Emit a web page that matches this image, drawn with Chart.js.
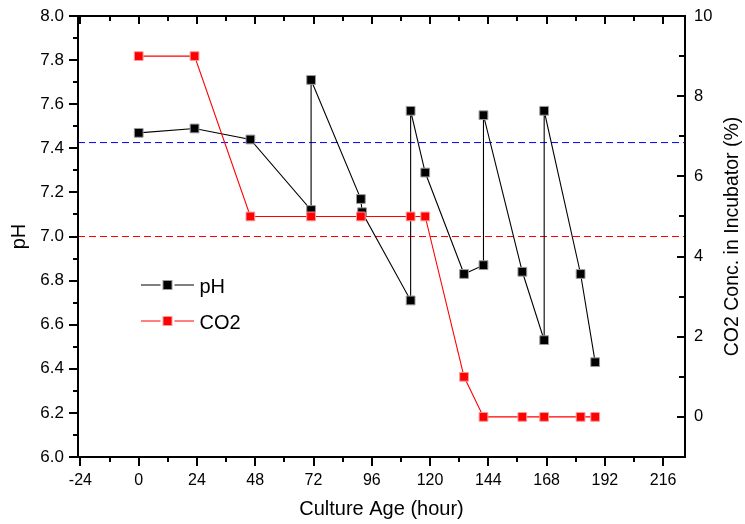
<!DOCTYPE html>
<html>
<head>
<meta charset="utf-8">
<script src="https://cdn.jsdelivr.net/npm/chart.js@4.4.1/dist/chart.umd.min.js"></script>
<style>
  html, body { margin: 0; padding: 0; background: #fff; }
  #wrap { width: 745px; height: 524px; position: relative; }
</style>
</head>
<body>
<div id="wrap"><canvas id="c" width="745" height="524"></canvas></div>
<script>
// ---- Data ----
const pHHours = [0, 23, 46, 71, 71, 91.5, 92, 112, 112, 118, 134, 142, 142, 158, 167, 167, 182, 188];
const pHValues = [7.47, 7.49, 7.44, 7.12, 7.71, 7.17, 7.11, 6.71, 7.57, 7.29, 6.83, 6.87, 7.55, 6.84, 6.53, 7.57, 6.83, 6.43];

const co2Hours = [0, 23, 46, 71, 91.5, 112, 118, 134, 142, 158, 167, 182, 188];
const co2Values = [9, 9, 5, 5, 5, 5, 5, 1, 0, 0, 0, 0, 0];

const refBlueLevel = 7.426; // pH
const refRedLevel = 7.0;    // pH

const xTicks = [-24, 0, 24, 48, 72, 96, 120, 144, 168, 192, 216];
const yTicks = [6.0, 6.2, 6.4, 6.6, 6.8, 7.0, 7.2, 7.4, 7.6, 7.8, 8.0];
const y2Ticks = [0, 2, 4, 6, 8, 10];

const xRange = [-25, 225];
const yRange = [6.0, 8.0];
const y2Range = [-1, 10];

const FONT = "'Liberation Sans', Arial, Helvetica, sans-serif";

const toPts = (xs, ys) => xs.map((x, i) => ({ x: x, y: ys[i] }));

// minor tick helpers (midpoints between major ticks)
const mids = arr => arr.slice(0, -1).map((v, i) => (v + arr[i + 1]) / 2);

const framePlugin = {
  id: 'frame',
  afterDraw(chart) {
    const { ctx, chartArea: a, scales } = chart;
    ctx.save();
    ctx.strokeStyle = '#000';
    ctx.lineWidth = 2;
    ctx.beginPath();
    const xMinorAll = mids(xTicks).concat([xTicks[xTicks.length - 1] + 12]).filter(v => v <= xRange[1]);
    xTicks.forEach(v => {
      const p = Math.round(scales.x.getPixelForValue(v));
      ctx.moveTo(p, a.bottom); ctx.lineTo(p, a.bottom + 9);
      ctx.moveTo(p, a.top); ctx.lineTo(p, a.top + 8);
    });
    xMinorAll.forEach(v => {
      const p = Math.round(scales.x.getPixelForValue(v));
      ctx.moveTo(p, a.bottom); ctx.lineTo(p, a.bottom + 5);
      ctx.moveTo(p, a.top); ctx.lineTo(p, a.top + 5);
    });
    // left y: outward
    yTicks.forEach(v => {
      const p = Math.round(scales.y.getPixelForValue(v));
      ctx.moveTo(a.left, p); ctx.lineTo(a.left - 9, p);
    });
    mids(yTicks).forEach(v => {
      const p = Math.round(scales.y.getPixelForValue(v));
      ctx.moveTo(a.left, p); ctx.lineTo(a.left - 5, p);
    });
    // right y2: inward
    y2Ticks.forEach(v => {
      const p = Math.round(scales.y2.getPixelForValue(v));
      ctx.moveTo(a.right, p); ctx.lineTo(a.right - 8, p);
    });
    mids(y2Ticks).forEach(v => {
      const p = Math.round(scales.y2.getPixelForValue(v));
      ctx.moveTo(a.right, p); ctx.lineTo(a.right - 6, p);
    });
    ctx.stroke();
    // frame
    ctx.lineWidth = 2;
    ctx.strokeRect(a.left, a.top, a.right - a.left, a.bottom - a.top);

    // right axis title (reads bottom-to-top)
    ctx.fillStyle = '#000';
    ctx.font = '19.5px ' + FONT;
    ctx.textAlign = 'center';
    ctx.textBaseline = 'middle';
    ctx.translate(733, (a.top + a.bottom) / 2);
    ctx.rotate(-Math.PI / 2);
    ctx.fillText('CO2 Conc. in Incubator (%)', 0, 0);
    ctx.restore();

    // legend
    ctx.save();
    const items = [chart.data.datasets[0], chart.data.datasets[1]];
    const rows = [269, 305];
    items.forEach((ds, i) => {
      const cy = a.top + rows[i];
      const x0 = a.left + 63, x1 = a.left + 116, mx = a.left + 89.5;
      ctx.strokeStyle = ds.borderColor;
      ctx.lineWidth = 1;
      ctx.beginPath();
      ctx.moveTo(x0, cy); ctx.lineTo(mx - 7, cy);
      ctx.moveTo(mx + 7, cy); ctx.lineTo(x1, cy);
      ctx.stroke();
      ctx.fillStyle = ds.pointBackgroundColor;
      ctx.fillRect(mx - 4.5, cy - 4.5, 9, 9);
      ctx.strokeStyle = ds.pointBorderColor;
      ctx.strokeRect(mx - 4.5, cy - 4.5, 9, 9);
      ctx.fillStyle = '#000';
      ctx.font = '20px ' + FONT;
      ctx.textAlign = 'left';
      ctx.textBaseline = 'alphabetic';
      ctx.fillText(ds.label, a.left + 121.5, cy + 7.5);
    });
    ctx.restore();
  }
};

const noPad = s => { s.paddingTop = 0; s.paddingBottom = 0; s.paddingLeft = 0; s.paddingRight = 0; };

new Chart(document.getElementById('c'), {
  type: 'line',
  data: {
    datasets: [
      {
        label: 'pH',
        data: toPts(pHHours, pHValues),
        yAxisID: 'y',
        borderColor: '#000000',
        borderWidth: 1.1,
        pointStyle: 'rect',
        pointRadius: 6.2,
        pointBackgroundColor: '#000000',
        pointBorderColor: '#9a9a9a',
        pointBorderWidth: 1,
        tension: 0,
        fill: false,
        order: 2
      },
      {
        label: 'CO2',
        data: toPts(co2Hours, co2Values),
        yAxisID: 'y2',
        borderColor: '#ff0000',
        borderWidth: 1.1,
        pointStyle: 'rect',
        pointRadius: 6.2,
        pointBackgroundColor: '#ff0000',
        pointBorderColor: '#ff9a9a',
        pointBorderWidth: 1,
        tension: 0,
        fill: false,
        order: 1
      },
      {
        label: 'ref-blue',
        data: [{ x: xRange[0], y: refBlueLevel }, { x: xRange[1], y: refBlueLevel }],
        yAxisID: 'y',
        borderColor: '#0000ff',
        borderWidth: 1,
        borderDash: [7, 4],
        pointRadius: 0,
        fill: false,
        order: 5
      },
      {
        label: 'ref-red',
        data: [{ x: xRange[0], y: refRedLevel }, { x: xRange[1], y: refRedLevel }],
        yAxisID: 'y',
        borderColor: '#ff0000',
        borderWidth: 1,
        borderDash: [7, 4],
        pointRadius: 0,
        fill: false,
        order: 5
      }
    ]
  },
  options: {
    responsive: false,
    animation: false,
    devicePixelRatio: 1,
    layout: { padding: { top: 16, left: 0, right: 0, bottom: 0 } },
    plugins: { legend: { display: false }, tooltip: { enabled: false } },
    scales: {
      x: {
        type: 'linear',
        position: 'bottom',
        min: xRange[0], max: xRange[1],
        afterBuildTicks: s => { s.ticks = xTicks.map(v => ({ value: v })); },
        afterFit: s => { s.height = 67; noPad(s); },
        grid: { display: false, drawTicks: false, tickLength: 0 },
        border: { display: false },
        ticks: { color: '#000', font: { family: FONT, size: 16 }, padding: 14, maxRotation: 0, autoSkip: false,
                 callback: v => String(v) },
        title: { display: true, text: 'Culture Age (hour)', color: '#000', font: { family: FONT, size: 20 }, padding: { top: 0, bottom: 3 } }
      },
      y: {
        type: 'linear',
        position: 'left',
        min: yRange[0], max: yRange[1],
        afterBuildTicks: s => { s.ticks = yTicks.map(v => ({ value: v })); },
        afterFit: s => { s.width = 78; noPad(s); },
        grid: { display: false, drawTicks: false, tickLength: 0 },
        border: { display: false },
        ticks: { color: '#000', font: { family: FONT, size: 17 }, padding: 14, autoSkip: false,
                 callback: v => Number(v).toFixed(1) },
        title: { display: true, text: 'pH', color: '#000', font: { family: FONT, size: 20 }, padding: { top: 7, bottom: 0 } }
      },
      y2: {
        type: 'linear',
        position: 'right',
        min: y2Range[0], max: y2Range[1],
        afterBuildTicks: s => { s.ticks = y2Ticks.map(v => ({ value: v })); },
        afterFit: s => { s.width = 60; noPad(s); },
        grid: { display: false, drawTicks: false, tickLength: 0 },
        border: { display: false },
        ticks: { color: '#000', font: { family: FONT, size: 16.5 }, padding: 9, autoSkip: false,
                 callback: v => String(v) },
        title: { display: false }
      }
    }
  },
  plugins: [framePlugin]
});
</script>
</body>
</html>
